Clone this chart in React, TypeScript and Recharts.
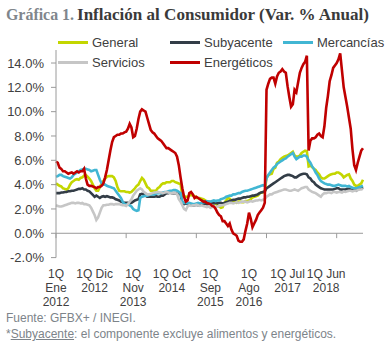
import React from "react";
import { LineChart, Line, XAxis, YAxis, ReferenceLine } from "recharts";

const MESES = ["Ene", "Feb", "Mar", "Abr", "May", "Jun", "Jul", "Ago", "Sep", "Oct", "Nov", "Dic"];
const ANIOS = [2012, 2013, 2014, 2015, 2016, 2017, 2018, 2019];

// inflación anual por quincena, 1Q Ene 2012 - 2Q Abr 2019
const general = [
  4.1, 4.0, 3.9, 3.85, 3.7, 3.65, 3.6, 3.7, 4.0, 4.2, 4.3, 4.4,
  4.45, 4.4, 4.55, 4.6, 4.75, 4.8, 4.65, 4.5, 4.3, 4.0, 3.7, 3.5,
  3.5, 3.8, 4.1, 4.3, 4.5, 4.65, 4.7, 4.7, 4.7, 4.6, 4.3, 3.8,
  3.5, 3.45, 3.45, 3.45, 3.4, 3.4, 3.35, 3.4, 3.55, 3.7, 3.9, 4.0,
  4.3, 4.55, 4.4, 4.1, 3.8, 3.7, 3.5, 3.5, 3.5, 3.5, 3.7, 3.8,
  4.0, 4.1, 4.1, 4.2, 4.2, 4.2, 4.3, 4.3, 4.2, 4.15, 4.1, 4.05,
  3.1, 3.05, 3.0, 3.0, 3.1, 3.15, 3.1, 3.05, 2.9, 2.9, 2.9, 2.85,
  2.8, 2.7, 2.6, 2.6, 2.55, 2.5, 2.5, 2.45, 2.3, 2.2, 2.1, 2.15,
  2.5, 2.7, 2.9, 2.85, 2.7, 2.55, 2.55, 2.5, 2.6, 2.6, 2.55, 2.55,
  2.65, 2.65, 2.7, 2.8, 2.95, 3.0, 3.05, 3.1, 3.25, 3.35, 3.35, 3.4,
  4.6, 4.75, 4.85, 4.9, 5.3, 5.4, 5.8, 5.9, 6.1, 6.2, 6.3, 6.35,
  6.4, 6.5, 6.6, 6.7, 6.4, 6.3, 6.3, 6.4, 6.6, 6.7, 6.8, 6.75,
  5.5, 5.55, 5.45, 5.3, 5.2, 5.0, 4.85, 4.6, 4.5, 4.5, 4.6, 4.7,
  4.8, 4.85, 4.9, 4.9, 5.0, 5.0, 4.9, 4.8, 4.6, 4.7, 4.8, 4.85,
  4.5, 4.3, 4.0, 3.9, 3.9, 4.0, 4.1, 4.4,
];

const subyacente = [
  3.3, 3.3, 3.3, 3.35, 3.35, 3.4, 3.4, 3.45, 3.45, 3.5, 3.5, 3.55,
  3.6, 3.65, 3.65, 3.7, 3.6, 3.6, 3.5, 3.45, 3.3, 3.15, 3.0, 3.1,
  3.0, 2.9, 3.0, 3.05, 3.0, 3.05, 3.0, 2.95, 2.95, 2.9, 2.8, 2.75,
  2.7, 2.6, 2.55, 2.5, 2.5, 2.5, 2.45, 2.5, 2.6, 2.7, 2.75, 2.8,
  3.2, 3.25, 3.2, 3.1, 3.0, 3.0, 3.0, 3.0, 3.0, 3.05, 3.0, 3.0,
  3.1, 3.1, 3.2, 3.3, 3.3, 3.35, 3.3, 3.3, 3.3, 3.25, 3.3, 3.25,
  2.45, 2.4, 2.45, 2.4, 2.35, 2.3, 2.3, 2.3, 2.35, 2.3, 2.3, 2.35,
  2.4, 2.45, 2.4, 2.4, 2.45, 2.5, 2.45, 2.5, 2.45, 2.5, 2.5, 2.45,
  2.5, 2.55, 2.6, 2.65, 2.7, 2.75, 2.75, 2.8, 2.85, 2.85, 2.9, 2.95,
  2.95, 3.0, 3.0, 3.05, 3.1, 3.1, 3.15, 3.2, 3.3, 3.35, 3.4, 3.45,
  3.7, 3.8, 3.9, 4.0, 4.1, 4.2, 4.3, 4.4, 4.5, 4.6, 4.7, 4.75,
  4.8, 4.8, 4.75, 4.7, 4.6, 4.6, 4.7, 4.8, 4.85, 4.9, 4.9, 4.85,
  4.6, 4.5, 4.3, 4.2, 4.0, 3.9, 3.8, 3.7, 3.65, 3.6, 3.6, 3.6,
  3.6, 3.6, 3.6, 3.65, 3.7, 3.7, 3.6, 3.6, 3.6, 3.6, 3.65, 3.65,
  3.6, 3.55, 3.55, 3.5, 3.6, 3.65, 3.7, 3.8,
];

const mercancias = [
  4.65, 4.7, 4.8, 4.8, 4.7, 4.65, 4.6, 4.55, 4.5, 4.6, 4.8, 4.9,
  5.0, 5.1, 5.2, 5.25, 5.3, 5.3, 5.25, 5.2, 5.1, 5.15, 5.2, 5.2,
  4.8, 4.4, 4.1, 4.0, 4.0, 3.9, 3.85, 3.8, 3.75, 3.7, 3.5, 3.3,
  3.1, 2.9, 2.6, 2.4, 2.35, 2.4, 2.3, 2.2, 2.0, 1.9, 1.85, 1.9,
  2.9, 3.0, 3.05, 3.1, 3.1, 3.15, 3.2, 3.2, 3.2, 3.25, 3.3, 3.3,
  3.3, 3.35, 3.4, 3.4, 3.45, 3.5, 3.5, 3.55, 3.55, 3.5, 3.4, 3.3,
  2.6, 2.5, 2.5, 2.45, 2.5, 2.45, 2.4, 2.4, 2.45, 2.5, 2.45, 2.5,
  2.55, 2.6, 2.65, 2.6, 2.6, 2.65, 2.7, 2.65, 2.7, 2.7, 2.8, 2.85,
  2.9, 3.0, 3.05, 3.1, 3.1, 3.2, 3.2, 3.25, 3.3, 3.3, 3.4, 3.45,
  3.5, 3.5, 3.55, 3.6, 3.65, 3.7, 3.75, 3.8, 3.85, 3.9, 3.95, 3.9,
  4.5, 4.8, 5.0, 5.2, 5.4, 5.5, 5.7, 5.8, 5.9, 6.0, 6.1, 6.15,
  6.3, 6.4, 6.5, 6.6, 6.3, 6.1, 6.2, 6.3, 6.3, 6.4, 6.4, 6.3,
  6.0, 5.8, 5.5, 5.3, 5.0, 4.8, 4.5, 4.3, 4.2, 4.1, 4.05, 4.0,
  4.0, 3.95, 3.9, 3.9, 3.95, 4.0, 3.95, 3.9, 3.9, 3.9, 3.85, 3.9,
  3.8, 3.75, 3.7, 3.7, 3.75, 3.8, 3.85, 3.9,
];

const servicios = [
  2.3, 2.25, 2.2, 2.2, 2.25, 2.3, 2.35, 2.4, 2.45, 2.5, 2.5, 2.45,
  2.5, 2.5, 2.45, 2.5, 2.4, 2.4, 2.35, 2.3, 2.1, 1.8, 1.5, 1.1,
  1.3, 1.7, 2.1, 2.3, 2.3, 2.35, 2.35, 2.4, 2.4, 2.35, 2.4, 2.4,
  2.4, 2.35, 2.3, 2.3, 2.25, 2.4, 2.6, 2.8, 3.1, 3.3, 3.5, 3.6,
  3.7, 3.6, 3.4, 3.3, 3.2, 3.2, 3.25, 3.3, 3.35, 3.35, 3.4, 3.35,
  3.35, 3.3, 3.35, 3.4, 3.35, 3.3, 3.3, 3.35, 3.3, 3.25, 2.8, 2.6,
  2.3, 2.0, 1.9, 2.2, 2.3, 2.25, 2.3, 2.3, 2.35, 2.3, 2.25, 2.3,
  2.25, 2.2, 2.15, 2.2, 2.1, 2.15, 2.2, 2.15, 2.2, 2.25, 2.3, 2.3,
  2.35, 2.4, 2.45, 2.5, 2.5, 2.45, 2.5, 2.55, 2.5, 2.55, 2.6, 2.6,
  2.6, 2.55, 2.6, 2.65, 2.6, 2.65, 2.7, 2.7, 2.75, 2.7, 2.75, 2.8,
  3.0, 3.1, 3.2, 3.2, 3.3, 3.35, 3.4, 3.45, 3.5, 3.55, 3.6, 3.6,
  3.55, 3.5, 3.5, 3.55, 3.6, 3.55, 3.5, 3.6, 3.7, 3.75, 3.8, 3.8,
  3.6, 3.5, 3.4, 3.35, 3.3, 3.2, 3.1, 3.0, 3.2, 3.3, 3.3, 3.35,
  3.35, 3.3, 3.4, 3.4, 3.35, 3.4, 3.4, 3.35, 3.45, 3.4, 3.45, 3.5,
  3.5, 3.45, 3.5, 3.5, 3.55, 3.6, 3.6, 3.65,
];

const energeticos = [
  5.9, 5.8, 5.4, 5.3, 5.1, 5.1, 5.0, 4.9, 4.95, 5.0, 4.9, 5.0,
  5.1, 5.0, 5.1, 5.1, 5.3, 4.5, 4.0, 3.9, 3.9, 3.85, 3.8, 3.7,
  3.8, 3.8, 3.9, 4.1, 4.6, 5.2, 6.0, 6.8, 7.5, 7.9, 8.0, 8.1,
  8.1, 8.2, 8.2, 8.3, 8.35, 8.6, 9.0, 8.7, 7.9, 8.0, 8.6, 9.4,
  10.0, 10.2, 10.1, 10.0, 9.5, 9.0, 8.5, 8.3, 8.2, 8.0, 7.8, 7.7,
  7.6, 7.4, 7.2, 7.0, 7.0, 6.9, 6.8, 6.7, 6.6, 6.3, 5.6, 4.6,
  3.7, 3.0, 2.6, 2.7, 3.3, 3.4, 3.2, 2.9, 3.0, 2.9, 2.8, 2.7,
  2.6, 2.6, 2.5, 2.45, 2.4, 2.25, 2.2, 2.0, 1.7, 1.5, 1.4, 1.0,
  1.0, 0.8, 0.6, 0.8, 0.3, 0.0, -0.1, -0.2, -0.6, -0.7, -0.7, -0.5,
  0.2, 0.8, 1.7, 1.2, 0.5, 0.8, 1.1, 1.5, 1.7, 1.9, 2.1, 2.5,
  11.8, 12.3, 12.7, 12.8, 12.8, 12.3, 12.9, 13.2, 13.3, 13.5, 13.3, 13.2,
  12.1, 11.2, 10.4, 10.6, 11.8, 11.6, 12.4, 13.2, 13.6, 13.9, 14.1, 14.6,
  6.8, 7.6, 7.8, 7.8, 7.9, 8.1, 8.2, 8.0, 7.9, 8.8, 10.3, 11.3,
  12.5, 13.0, 13.6, 13.8, 14.0, 14.3, 14.8, 13.4, 12.0, 11.2, 10.4, 9.5,
  8.6, 6.9, 5.6, 5.2, 5.8, 6.3, 6.8, 7.0,
];

const periodos = ANIOS.flatMap((a) => MESES.flatMap((m) => [`1Q ${m} ${a}`, `2Q ${m} ${a}`])).slice(0, general.length);

const ticksY = [-2, 0, 2, 4, 6, 8, 10, 12, 14];
const marcasEje = [0, 40, 80, 120, 160];

const series = [
  { key: "general", nombre: "General", color: "#c3d600" },
  { key: "subyacente", nombre: "Subyacente", color: "#333d47" },
  { key: "mercancias", nombre: "Mercancías", color: "#41b6d3" },
  { key: "servicios", nombre: "Servicios", color: "#c6c6c6" },
  { key: "energeticos", nombre: "Energéticos", color: "#c00000" },
];

const datos = periodos.map((p, i) => ({
  periodo: p,
  general: general[i],
  subyacente: subyacente[i],
  mercancias: mercancias[i],
  servicios: servicios[i],
  energeticos: energeticos[i],
}));

const FUENTE = "'Liberation Sans', Arial, sans-serif";
const EJE = "#9a9a9a";

let ctx: CanvasRenderingContext2D | null = null;
function ancho(txt: string) {
  if (!ctx) ctx = document.createElement("canvas").getContext("2d");
  if (!ctx) return txt.length * 6.5;
  ctx.font = `12px ${FUENTE}`;
  return ctx.measureText(txt).width;
}

// excel parte la etiqueta cuando no cabe en el hueco
function partir(label: string) {
  const [q, m, a] = label.split(" ");
  if (ancho(`${q} ${m}`) <= 39) return [`${q} ${m}`, a];
  return [q, m, a];
}

function TickFecha(props: any) {
  const { x, y, payload } = props;
  const lineas = partir(payload.value);
  return (
    <text x={x} y={y} textAnchor="middle" fill="#404040" fontSize={12} fontFamily={FUENTE}>
      {lineas.map((l, k) => (
        <tspan key={k} x={x} dy={k === 0 ? 20 : 14.2}>
          {l}
        </tspan>
      ))}
    </text>
  );
}

function ItemLeyenda({ nombre, color, left }: { nombre: string; color: string; left: number }) {
  return (
    <div style={{ position: "absolute", left, top: 0, height: 16, display: "flex", alignItems: "center" }}>
      <div style={{ width: 30, height: 3, background: color, marginRight: 4 }} />
      <span style={{ fontSize: 13, color: "#404040", fontFamily: FUENTE, whiteSpace: "nowrap" }}>{nombre}</span>
    </div>
  );
}

export default function App() {
  const s = Object.fromEntries(series.map((x) => [x.key, x]));
  const titulo = { fontFamily: "'Liberation Serif', serif", fontWeight: "bold" as const, fontSize: 16.5 };
  return (
    <div style={{ position: "absolute", left: 0, top: 0, width: 390, height: 355, background: "#fff", overflow: "hidden" }}>
      <svg width={390} height={28} style={{ position: "absolute", left: 0, top: 0 }}>
        <text x={6} y={20} {...titulo} fill="#80868c" textLength={68} lengthAdjust="spacingAndGlyphs">
          Gráfica 1.
        </text>
        <text x={77} y={20} {...titulo} fill="#3a3a3a" textLength={292} lengthAdjust="spacingAndGlyphs">
          Inflación al Consumidor (Var. % Anual)
        </text>
      </svg>

      <div style={{ position: "absolute", left: 0, top: 0 }}>
        <LineChart width={390} height={310} data={datos} margin={{ top: 38.7, right: 27, bottom: 2.4, left: 0 }}>
          <XAxis
            dataKey="periodo"
            interval={21}
            height={50}
            axisLine={false}
            tickLine={false}
            tickSize={0}
            tickMargin={0}
            tick={<TickFecha />}
          />
          <YAxis
            domain={[-2, 16]}
            ticks={ticksY}
            width={56}
            tickSize={5}
            tickMargin={7}
            axisLine={{ stroke: EJE }}
            tickLine={{ stroke: EJE }}
            tick={{ fill: "#404040", fontSize: 13, fontFamily: FUENTE }}
            tickFormatter={(v: number) => `${v.toFixed(1)}%`}
          />
          <ReferenceLine y={0} stroke={EJE} strokeWidth={1} />
          {marcasEje.map((k) => (
            <ReferenceLine
              key={k}
              segment={[
                { x: periodos[k], y: 0 },
                { x: periodos[k], y: -0.4 },
              ]}
              stroke={EJE}
            />
          ))}
          {series.map((x) => (
            <Line
              key={x.key}
              dataKey={x.key}
              name={x.nombre}
              stroke={x.color}
              strokeWidth={2.6}
              dot={false}
              type="linear"
              isAnimationActive={false}
            />
          ))}
        </LineChart>
      </div>

      <div style={{ position: "absolute", left: 54, top: 34, width: 334, height: 16, background: "#fff" }}>
        <ItemLeyenda nombre={s.general.nombre} color={s.general.color} left={4} />
        <ItemLeyenda nombre={s.subyacente.nombre} color={s.subyacente.color} left={116} />
        <ItemLeyenda nombre={s.mercancias.nombre} color={s.mercancias.color} left={229} />
      </div>
      <div style={{ position: "absolute", left: 57, top: 54, width: 220, height: 16, background: "#fff" }}>
        <ItemLeyenda nombre={s.servicios.nombre} color={s.servicios.color} left={1} />
        <ItemLeyenda nombre={s.energeticos.nombre} color={s.energeticos.color} left={113} />
      </div>

      <div style={{ position: "absolute", left: 6, top: 310, fontSize: 12, lineHeight: "16px", color: "#7d848a", fontFamily: FUENTE, whiteSpace: "nowrap" }}>
        <div>Fuente: GFBX+ / INEGI.</div>
        <div>
          *<span style={{ textDecoration: "underline" }}>Subyacente</span>: el componente excluye alimentos y energéticos.
        </div>
      </div>
    </div>
  );
}
